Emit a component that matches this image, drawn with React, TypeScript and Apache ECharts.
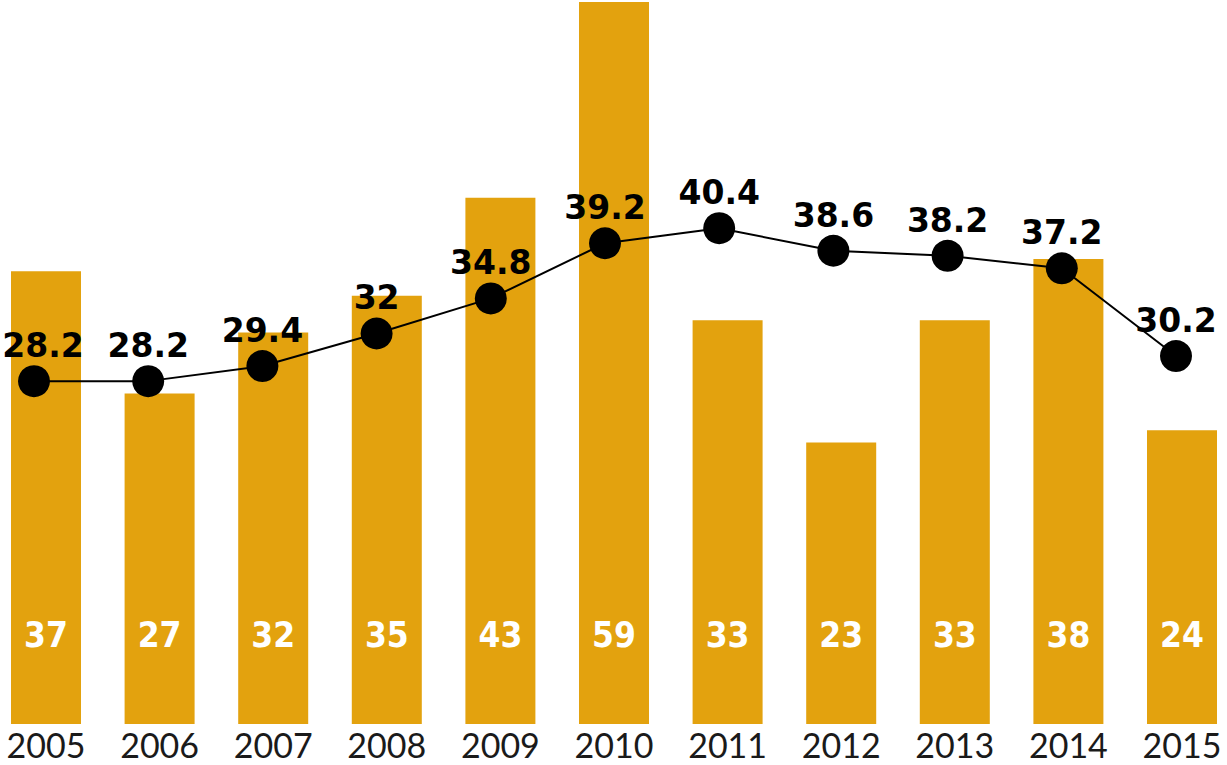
import React, { useEffect, useRef } from "react";
import * as echarts from "echarts";

const years = ["2005", "2006", "2007", "2008", "2009", "2010", "2011", "2012", "2013", "2014", "2015"];
const barValues = [37, 27, 32, 35, 43, 59, 33, 23, 33, 38, 24];
const lineValues = [28.2, 28.2, 29.4, 32, 34.8, 39.2, 40.4, 38.6, 38.2, 37.2, 30.2];

export default function App() {
  const ref = useRef<HTMLDivElement>(null);
  useEffect(() => {
    if (!ref.current) return;
    const chart = echarts.init(ref.current, undefined, { renderer: "svg" });
    const lineData = lineValues.map((v, i) =>
      i === 0 ? { value: v, label: { offset: [9, 0] } } : v
    );
    chart.setOption({
      animation: false,
      backgroundColor: "#ffffff",
      grid: [
        { left: 46, right: 45, top: 2, bottom: 41, containLabel: false },
        { left: 34, right: 51, top: 7.6, bottom: 30.4, containLabel: false },
      ],
      xAxis: [
        {
          type: "category",
          gridIndex: 0,
          data: years,
          boundaryGap: false,
          axisLine: { show: false },
          axisTick: { show: false },
          axisLabel: {
            margin: 3,
            fontFamily: "Lato",
            fontSize: 34,
            lineHeight: 34,
            color: "#1a1a1a",
            interval: 0,
          },
        },
        {
          type: "category",
          gridIndex: 1,
          data: years,
          boundaryGap: false,
          show: false,
        },
      ],
      yAxis: [
        { type: "value", gridIndex: 0, min: 0, max: 59, show: false },
        { type: "value", gridIndex: 1, min: 0, max: 58, show: false },
      ],
      series: [
        {
          type: "bar",
          xAxisIndex: 0,
          yAxisIndex: 0,
          data: barValues,
          barWidth: 70,
          clip: false,
          itemStyle: { color: "#E3A20E" },
          label: {
            show: true,
            position: "insideBottom",
            distance: 72,
            color: "#ffffff",
            fontFamily: "'DejaVu Sans Condensed', sans-serif",
            fontWeight: "bold",
            fontSize: 35,
          },
        },
        {
          type: "line",
          xAxisIndex: 1,
          yAxisIndex: 1,
          data: lineData,
          symbol: "circle",
          symbolSize: 32,
          lineStyle: { color: "#000000", width: 2 },
          itemStyle: { color: "#000000" },
          z: 5,
          label: {
            show: true,
            position: "top",
            distance: 3,
            color: "#000000",
            fontFamily: "'DejaVu Sans', sans-serif",
            fontWeight: "bold",
            fontSize: 33,
          },
        },
      ],
    });
    return () => chart.dispose();
  }, []);
  return (
    <div
      ref={ref}
      style={{ position: "absolute", left: 0, top: 0, width: 1227, height: 765 }}
    />
  );
}
